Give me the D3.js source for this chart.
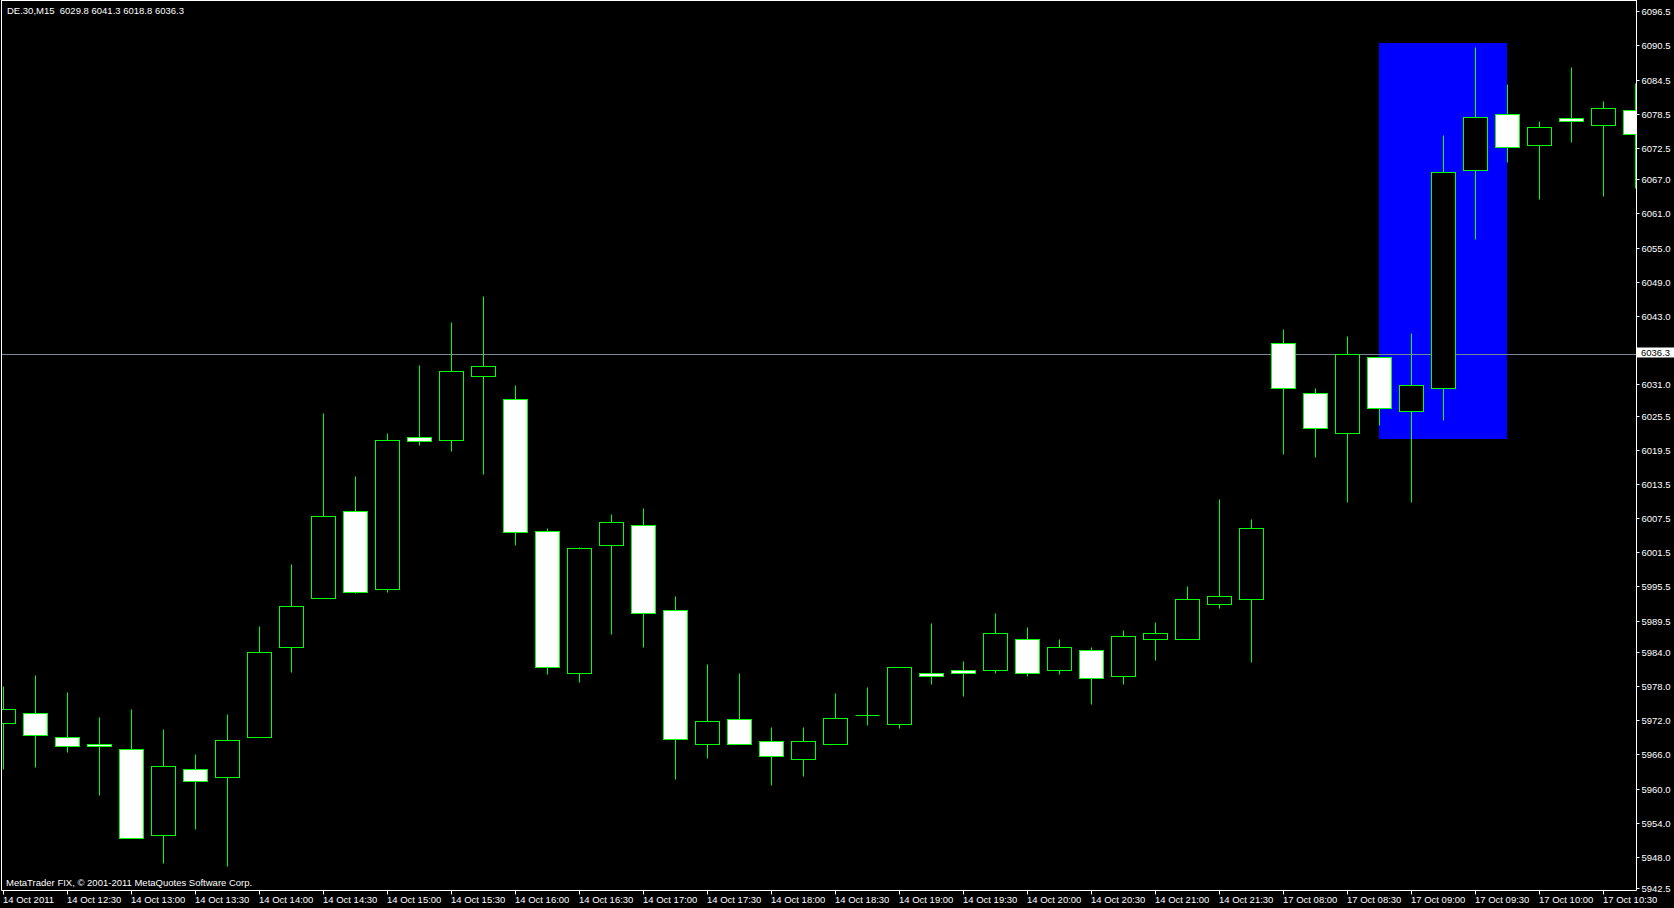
<!DOCTYPE html>
<html>
<head>
<meta charset="utf-8">
<script src="https://cdnjs.cloudflare.com/ajax/libs/d3/7.8.5/d3.min.js"></script>
<style>
html, body { margin: 0; padding: 0; background: #000; overflow: hidden; }
svg { display: block; }
text { font-family: "Liberation Sans", Arial, sans-serif; font-size: 9.5px; fill: #fff; }
</style>
</head>
<body>
<svg id="chart" width="1674" height="908"></svg>
<script>
// ---------------- DATA ----------------
const chartTitle = "DE.30,M15  6029.8 6041.3 6018.8 6036.3";
const copyrightText = "MetaTrader FIX, \u00A9 2001-2011 MetaQuotes Software Corp.";

// M15 bars, index 0 = 14 Oct 12:00 ... index 51 = 17 Oct 10:45
const opens  = [5971.5,5973.3,5969.0,5967.9,5967.0,5951.9,5963.5,5962.0,5969.0,5984.9,
                5993.4,6008.8,5995.0,6021.8,6021.3,6032.4,6028.4,6005.3,5980.3,6002.7,
                6006.3,5991.3,5967.8,5972.3,5968.3,5965.2,5967.8,5972.9,5971.3,5980.3,
                5980.8,5980.8,5986.3,5980.8,5984.3,5979.7,5986.3,5986.2,5992.4,5993.3,
                6038.3,6029.4,6022.4,6035.8,6026.4,6030.4,6068.6,6078.5,6073.1,6077.7,
                6076.6,6079.2];
const highs  = [5978.1,5979.9,5977.0,5972.5,5974.0,5970.4,5966.1,5973.1,5988.5,5999.4,
                6025.9,6014.9,6022.5,6034.4,6041.9,6046.5,6030.9,6005.8,6002.4,6008.2,
                6009.3,5993.9,5981.9,5980.3,5970.8,5970.8,5976.8,5977.9,5981.3,5989.0,
                5982.4,5990.9,5988.4,5986.3,5984.9,5987.9,5989.3,5995.5,6010.9,6007.4,
                6040.8,6030.4,6039.4,6035.8,6040.0,6074.8,6090.2,6083.7,6077.2,6086.7,
                6080.7,6083.9];
const lows   = [5963.4,5963.8,5966.5,5958.9,5951.4,5946.9,5952.9,5946.4,5969.0,5980.4,
                5993.4,5994.4,5994.5,6020.4,6019.3,6015.3,6002.8,5980.2,5978.8,5987.2,
                5984.8,5961.7,5965.3,5967.8,5960.7,5962.3,5967.8,5971.2,5970.7,5978.3,
                5976.3,5980.3,5979.7,5980.2,5974.8,5978.4,5982.6,5986.2,5991.8,5982.3,
                6018.7,6018.3,6010.4,6023.9,6010.4,6024.7,6056.5,6070.1,6063.6,6073.6,
                6064.1,6065.4];
const closes = [5974.0,5969.5,5967.4,5967.4,5951.4,5963.9,5961.4,5968.5,5984.0,5992.0,
                6007.9,5994.5,6021.3,6021.0,6033.4,6034.3,6005.0,5981.4,6002.3,6006.8,
                5990.8,5968.8,5971.8,5967.8,5965.8,5968.3,5972.4,5972.9,5981.3,5979.7,
                5980.3,5987.3,5980.3,5984.9,5979.4,5986.8,5987.3,5993.3,5993.8,6005.8,
                6030.4,6023.4,6036.4,6026.9,6030.8,6068.2,6078.0,6072.6,6076.1,6077.2,
                6079.6,6074.9];

const timeLabels = ["14 Oct 2011","14 Oct 12:30","14 Oct 13:00","14 Oct 13:30","14 Oct 14:00",
                    "14 Oct 14:30","14 Oct 15:00","14 Oct 15:30","14 Oct 16:00","14 Oct 16:30",
                    "14 Oct 17:00","14 Oct 17:30","14 Oct 18:00","14 Oct 18:30","14 Oct 19:00",
                    "14 Oct 19:30","14 Oct 20:00","14 Oct 20:30","14 Oct 21:00","14 Oct 21:30",
                    "17 Oct 08:00","17 Oct 08:30","17 Oct 09:00","17 Oct 09:30","17 Oct 10:00",
                    "17 Oct 10:30"];
const timeLabelBars = [0,2,4,6,8,10,12,14,16,18,20,22,24,26,28,30,32,34,36,38,40,42,44,46,48,50];

const priceTicks = [6096.5,6090.5,6084.5,6078.5,6072.5,6067.0,6061.0,6055.0,6049.0,6043.0,
                    6037.0,6031.0,6025.5,6019.5,6013.5,6007.5,6001.5,5995.5,5989.5,5984.0,
                    5978.0,5972.0,5966.0,5960.0,5954.0,5948.0,5942.5];

const bidPrice = 6036.3;
const rectBars = [43, 47];
const rectPrices = [6021.4, 6090.9];

// ---------------- LAYOUT ----------------
const W = 1674, H = 908;
const plotLeft = 1.5, plotRight = 1636.5, plotTop = 0.5, plotBottom = 890.5;
const green = "#00ff00";

const svg = d3.select("#chart");
svg.append("rect").attr("width", W).attr("height", H).attr("fill", "#000");

const x = d3.scaleLinear().domain([0, 51]).range([3.5, 1635.5]);
const y = d3.scaleLinear().domain([5942.5, 6096.5]).range([888.3, 11.3]);
const yR = y.copy().interpolate(d3.interpolateRound);
const py = v => Math.round(y(v)) + 0.5;

svg.append("defs").append("clipPath").attr("id", "plotClip")
  .append("rect").attr("x", 2).attr("y", 1).attr("width", 1634).attr("height", 889);

const plot = svg.append("g").attr("clip-path", "url(#plotClip)");

// Blue rectangle object
plot.append("rect")
  .attr("x", x(rectBars[0]) - 0.5)
  .attr("y", Math.round(y(rectPrices[1])))
  .attr("width", x(rectBars[1]) - x(rectBars[0]))
  .attr("height", Math.round(y(rectPrices[0])) - Math.round(y(rectPrices[1])))
  .attr("fill", "#0000ff");

// Bid line
plot.append("line")
  .attr("x1", plotLeft).attr("x2", plotRight)
  .attr("y1", py(bidPrice)).attr("y2", py(bidPrice))
  .attr("stroke", "#778899").attr("stroke-width", 1);

// Candles
const bars = d3.range(opens.length).map(i => ({i, o: opens[i], h: highs[i], l: lows[i], c: closes[i]}));
const g = plot.selectAll("g.bar").data(bars).enter().append("g").attr("class", "bar");

g.append("line")
  .attr("x1", d => x(d.i)).attr("x2", d => x(d.i))
  .attr("y1", d => py(d.h)).attr("y2", d => py(d.l))
  .attr("stroke", green).attr("stroke-width", 1);

g.each(function(d) {
  const sel = d3.select(this);
  const top = py(Math.max(d.o, d.c)), bot = py(Math.min(d.o, d.c));
  if (bot - top < 1) {
    sel.append("line")
      .attr("x1", x(d.i) - 12).attr("x2", x(d.i) + 12)
      .attr("y1", top).attr("y2", top)
      .attr("stroke", green).attr("stroke-width", 1);
  } else {
    sel.append("rect")
      .attr("x", x(d.i) - 12).attr("y", top)
      .attr("width", 24).attr("height", bot - top)
      .attr("fill", d.c > d.o ? "#000" : "#fff")
      .attr("stroke", green).attr("stroke-width", 1);
  }
});

// Frame
svg.append("line").attr("x1", plotLeft).attr("x2", plotLeft).attr("y1", 0).attr("y2", plotBottom).attr("stroke", "#fff");
svg.append("line").attr("x1", plotLeft).attr("x2", plotRight).attr("y1", plotTop).attr("y2", plotTop).attr("stroke", "#fff");
svg.append("line").attr("x1", plotRight).attr("x2", plotRight).attr("y1", 0).attr("y2", plotBottom).attr("stroke", "#fff");
svg.append("line").attr("x1", plotLeft).attr("x2", plotRight).attr("y1", plotBottom).attr("y2", plotBottom).attr("stroke", "#fff");

// Right price axis
const yAxis = d3.axisRight(yR).tickValues(priceTicks).tickSize(3).tickPadding(2)
  .tickFormat(d3.format(".1f"));
const ya = svg.append("g").attr("transform", `translate(${plotRight},0)`).call(yAxis);
ya.select(".domain").remove();
ya.selectAll(".tick line").attr("stroke", "#fff");
ya.selectAll(".tick text").attr("fill", "#fff").attr("font-size", null).attr("font-family", null);

// Bottom time axis
const xAxis = d3.axisBottom(x).tickValues(timeLabelBars).tickSize(4).offset(0)
  .tickFormat((d, i) => timeLabels[i]);
const xa = svg.append("g").attr("transform", `translate(0,${plotBottom})`).call(xAxis);
xa.select(".domain").remove();
xa.selectAll(".tick line").attr("stroke", "#fff");
xa.selectAll(".tick text").attr("fill", "#fff").attr("text-anchor", "start")
  .attr("x", -0.5).attr("y", 6).attr("font-size", null).attr("font-family", null);

// Bid price label on axis
const by = Math.round(y(bidPrice));
svg.append("rect").attr("x", 1637).attr("y", by - 6.5).attr("width", 37).attr("height", 10).attr("fill", "#fff");
svg.append("text").attr("x", 1641).attr("y", by + 2).attr("fill", "#000").style("fill", "#000")
  .text(d3.format(".1f")(bidPrice));

// Title and copyright
svg.append("text").attr("x", 7).attr("y", 14).style("white-space", "pre").text(chartTitle);
svg.append("text").attr("x", 6).attr("y", 886).text(copyrightText);
</script>
</body>
</html>
